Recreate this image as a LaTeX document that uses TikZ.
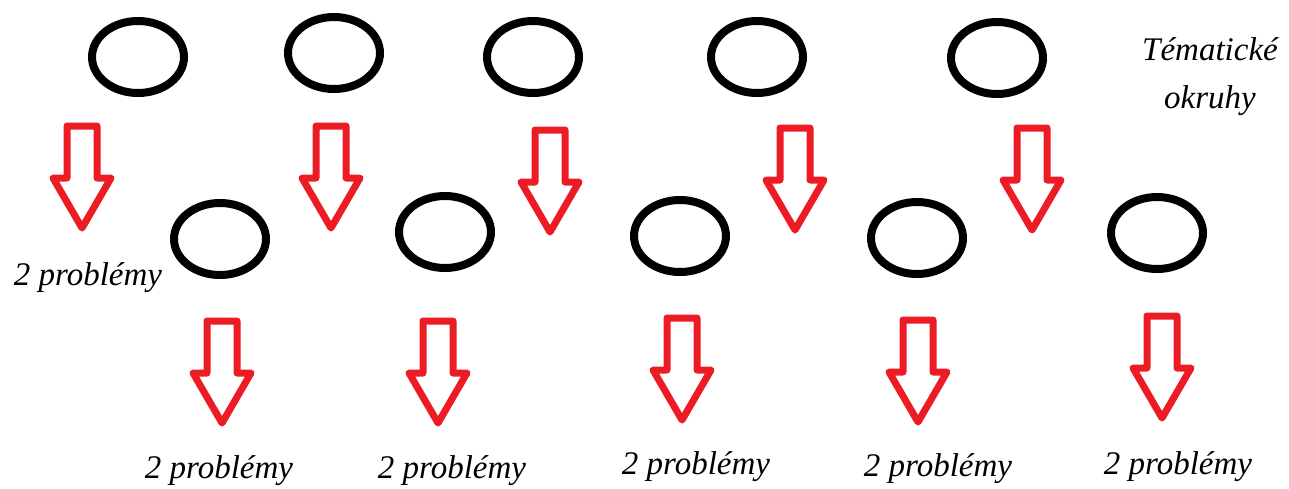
\documentclass[tikz,border=0pt]{standalone}
\usepackage{fontspec}
\setmainfont{Liberation Serif}
\usetikzlibrary{shapes.geometric}
\definecolor{paintred}{RGB}{237,28,36}
\tikzset{
  ring/.style={draw=black, line width=4pt, ellipse, minimum width=46pt, minimum height=36pt, inner sep=0pt},
  lbl/.style={font=\fontsize{16.5}{20}\selectfont\itshape, inner sep=0pt},
  downarrow/.pic={
    \draw[paintred, line width=3.5pt, line join=round]
      (-15,0) -- (15,0) -- (15,52) -- (29,52) -- (0,102) -- (-29,52) -- (-15,52) -- cycle;
  }
}
\begin{document}
\begin{tikzpicture}[x=0.5pt,y=-0.5pt]
\useasboundingbox (0,0) rectangle (1289,488);
% top row of ellipses
\node[ring] (t1) at (138,57) {};
\node[ring] (t2) at (334,53) {};
\node[ring] (t3) at (533,57) {};
\node[ring] (t4) at (757,57) {};
\node[ring] (t5) at (997,58) {};
% second row of ellipses
\node[ring] (b1) at (220,239) {};
\node[ring] (b2) at (445,232) {};
\node[ring] (b3) at (680,236) {};
\node[ring] (b4) at (917,238) {};
\node[ring] (b5) at (1157,233) {};
% top row arrows
\pic at (82,126) {downarrow};
\pic at (331,126) {downarrow};
\pic at (550,130) {downarrow};
\pic at (795,128) {downarrow};
\pic at (1032,128) {downarrow};
% bottom row arrows
\pic at (222,321) {downarrow};
\pic at (438,321) {downarrow};
\pic at (682,318) {downarrow};
\pic at (918,320) {downarrow};
\pic at (1162,316) {downarrow};
% labels
\node[lbl, anchor=base] (head1) at (1210,60) {Tématické};
\node[lbl, anchor=base] (head2) at (1210,108) {okruhy};
\node[lbl, anchor=base] (p0) at (88,285) {2 problémy};
\node[lbl, anchor=base] (p1) at (219,478) {2 problémy};
\node[lbl, anchor=base] (p2) at (452,478) {2 problémy};
\node[lbl, anchor=base] (p3) at (696,474) {2 problémy};
\node[lbl, anchor=base] (p4) at (938,476) {2 problémy};
\node[lbl, anchor=base] (p5) at (1178,474) {2 problémy};
\end{tikzpicture}
\end{document}
